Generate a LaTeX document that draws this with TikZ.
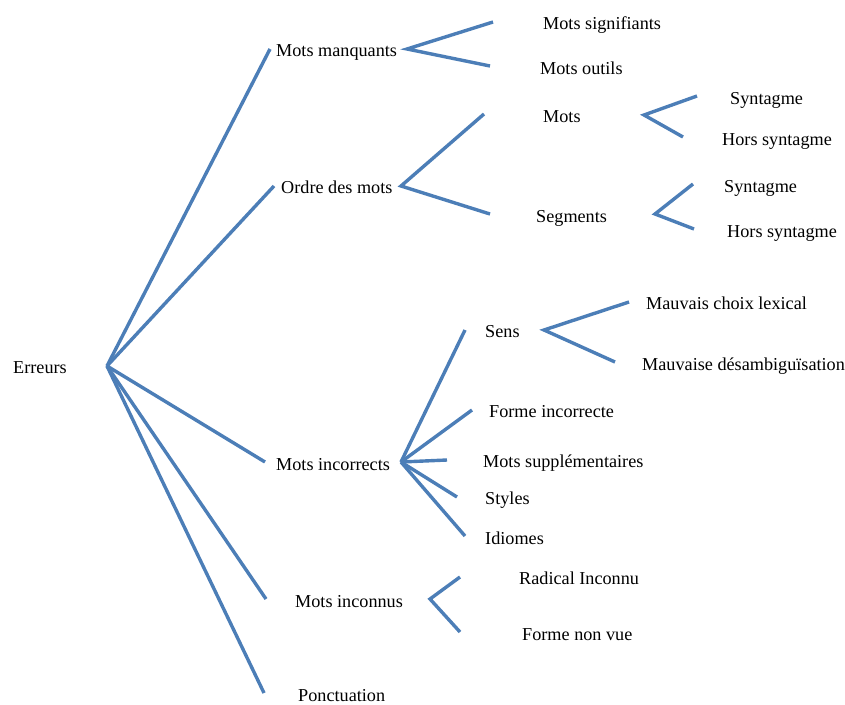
\documentclass[tikz,border=0pt]{standalone}
\usepackage{fontspec}
\setmainfont{Liberation Serif}
\definecolor{branch}{RGB}{76,126,183}
\begin{document}
\begin{tikzpicture}[x=1pt,y=-1pt,
  lbl/.style={anchor=base west,inner sep=0pt,font=\fontsize{18.2}{20}\selectfont},
  edge/.style={draw=branch,line width=3.4pt,line join=miter}]
\useasboundingbox (0,0) rectangle (845,704);
% labels
\node[lbl] (erreurs) at (13,373) {Erreurs};
\node[lbl] (mm) at (276,56.5) {Mots manquants};
\node[lbl] (odm) at (281,193.5) {Ordre des mots};
\node[lbl] (mi) at (276,470.5) {Mots incorrects};
\node[lbl] (minc) at (295,607.5) {Mots inconnus};
\node[lbl] (ponc) at (298,701.5) {Ponctuation};
\node[lbl] (msig) at (543,29.5) {Mots signifiants};
\node[lbl] (mout) at (540,74.5) {Mots outils};
\node[lbl] (mots) at (543,122.5) {Mots};
\node[lbl] (seg) at (536,222.5) {Segments};
\node[lbl] (syn1) at (730,104.5) {Syntagme};
\node[lbl] (hs1) at (722,145.5) {Hors syntagme};
\node[lbl] (syn2) at (724,192.5) {Syntagme};
\node[lbl] (hs2) at (727,237.5) {Hors syntagme};
\node[lbl] (sens) at (485,337.5) {Sens};
\node[lbl] (finc) at (489,417.5) {Forme incorrecte};
\node[lbl] (msup) at (483,467.5) {Mots supplémentaires};
\node[lbl] (sty) at (485,504.5) {Styles};
\node[lbl] (idi) at (485,544.5) {Idiomes};
\node[lbl] (mcl) at (646,309.5) {Mauvais choix lexical};
\node[lbl] (mdes) at (642,370.5) {Mauvaise désambiguïsation};
\node[lbl] (rad) at (519,584.5) {Radical Inconnu};
\node[lbl] (fnv) at (522,640.5) {Forme non vue};
% line end points
\coordinate (root) at (107,366);
\coordinate (e1) at (270,49);
\coordinate (e2) at (274,186);
\coordinate (e3) at (265,462);
\coordinate (e4) at (266,599);
\coordinate (e5) at (264,693);
\coordinate (vmm) at (407,49);
\coordinate (mma) at (493,22);
\coordinate (mmb) at (490,66);
\coordinate (vod) at (401,186);
\coordinate (oda) at (484,114);
\coordinate (odb) at (490,214);
\coordinate (vmo) at (644,115);
\coordinate (moa) at (697,96);
\coordinate (mob) at (683,137);
\coordinate (vse) at (655,214);
\coordinate (sea) at (693,184);
\coordinate (seb) at (694,229);
\coordinate (vmi) at (401,462);
\coordinate (mia) at (465,330);
\coordinate (mib) at (472,410);
\coordinate (mic) at (447,460);
\coordinate (mid) at (457,497);
\coordinate (mie) at (465,536);
\coordinate (vsn) at (544,330);
\coordinate (sna) at (629,302);
\coordinate (snb) at (615,362);
\coordinate (vin) at (430,599);
\coordinate (ina) at (460,577);
\coordinate (inb) at (460,632);
% connectors
\draw[edge] (root) -- (e1);
\draw[edge] (root) -- (e2);
\draw[edge] (root) -- (e3);
\draw[edge] (root) -- (e4);
\draw[edge] (root) -- (e5);
\draw[edge] (mma) -- (vmm) -- (mmb);
\draw[edge] (oda) -- (vod) -- (odb);
\draw[edge] (moa) -- (vmo) -- (mob);
\draw[edge] (sea) -- (vse) -- (seb);
\draw[edge] (vmi) -- (mia);
\draw[edge] (vmi) -- (mib);
\draw[edge] (vmi) -- (mic);
\draw[edge] (vmi) -- (mid);
\draw[edge] (vmi) -- (mie);
\draw[edge] (sna) -- (vsn) -- (snb);
\draw[edge] (ina) -- (vin) -- (inb);
\end{tikzpicture}
\end{document}
